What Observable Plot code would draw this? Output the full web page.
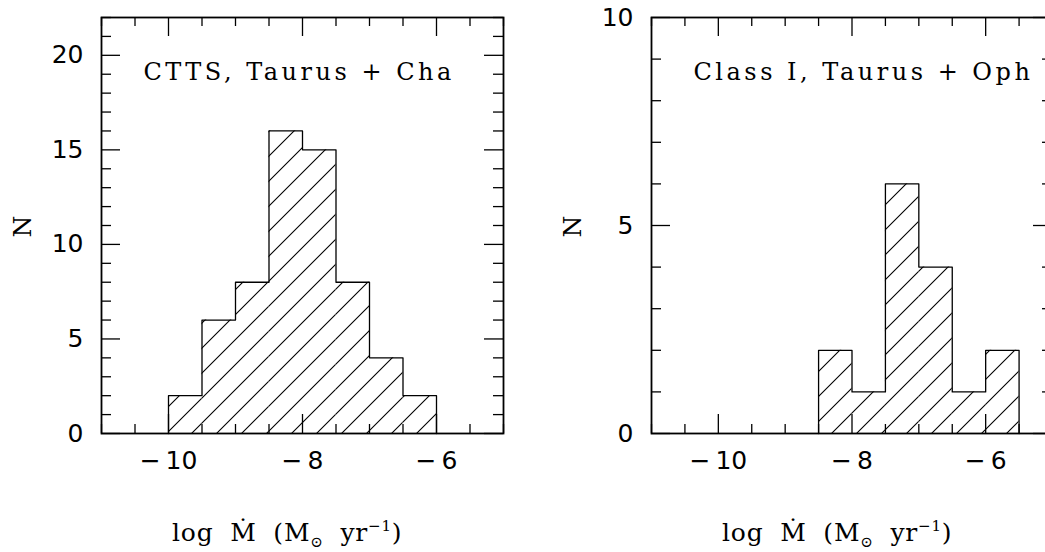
<!DOCTYPE html>
<html>
<head>
<meta charset="utf-8">
<script src="https://cdn.jsdelivr.net/npm/d3@7"></script>
<script src="https://cdn.jsdelivr.net/npm/@observablehq/plot@0.6"></script>
<style>
html, body { margin: 0; padding: 0; background: #fff; overflow: hidden; width: 1045px; height: 552px; }
#wrap { position: relative; width: 1045px; height: 552px; overflow: hidden; background: #fff; }
.panel { position: absolute; top: 0; }
.panel svg { overflow: visible; max-width: none !important; display: block; }
</style>
</head>
<body>
<div id="wrap"></div>
<script>
// Left panel: CTTS, Taurus + Cha
const cttsEdges = [-10, -9.5, -9, -8.5, -8, -7.5, -7, -6.5, -6];
const cttsCounts = [2, 6, 8, 16, 15, 8, 4, 2];
// Right panel: Class I, Taurus + Oph
const classIEdges = [-8.5, -8, -7.5, -7, -6.5, -6, -5.5];
const classICounts = [2, 1, 6, 4, 1, 2];

const xDomain = [-11, -5];
const xTickLabels = [-10, -8, -6];
const cttsYTickLabels = [0, 5, 10, 15, 20];
const classIYTickLabels = [0, 5, 10];
const cttsTitle = "CTTS, Taurus + Cha";
const classITitle = "Class I, Taurus + Oph";
const yLabel = "N";

const serif = "'DejaVu Serif', 'Liberation Serif', serif";
const sans = "'DejaVu Sans', 'Liberation Sans', sans-serif";
const fmt = d => (d < 0 ? "\u2212\u2009" : "") + Math.abs(d);

function panel({edges, counts, title, yMax, yTicks, id, left, width, marginLeft, marginRight}) {
  const H = 552, mt = 17, mb = 119;
  const ih = H - mt - mb;
  const iw = width - marginLeft - marginRight;
  const bins = counts.map((c, i) => ({x1: edges[i], x2: edges[i + 1], n: c}));
  const outline = [{x: edges[0], n: 0}, ...bins.map(b => ({x: b.x1, n: b.n})), {x: edges[edges.length - 1], n: 0}];
  const xAll = d3.range(xDomain[0], xDomain[1] + 0.001, 0.5);
  const xMajor = xAll.filter(v => Number.isInteger(v) && v % 2 === 0);
  const xMinor = xAll.filter(v => !xMajor.includes(v));
  const yAll = d3.range(0, yMax + 0.001, 1);
  const yMajor = yAll.filter(v => v % 5 === 0);
  const yMinor = yAll.filter(v => v % 5 !== 0);
  const tickW = 1.3;

  const svg = Plot.plot({
    width, height: H,
    marginLeft, marginRight, marginTop: mt, marginBottom: mb,
    style: {fontFamily: sans, fontSize: "25px", color: "#000", background: "transparent"},
    x: {domain: xDomain},
    y: {domain: [0, yMax]},
    marks: [
      Plot.rectY(bins, {x1: "x1", x2: "x2", y: "n", fill: `url(#${id})`}),
      Plot.line(outline, {x: "x", y: "n", curve: "step-after", stroke: "#000", strokeWidth: 1.3}),
      // inward ticks
      Plot.ruleX(xMinor, {x: d => d, insetTop: ih - 9, stroke: "#000", strokeWidth: tickW}),
      Plot.ruleX(xMajor, {x: d => d, insetTop: ih - 19, stroke: "#000", strokeWidth: tickW}),
      Plot.ruleX(xMinor, {x: d => d, insetBottom: ih - 9, stroke: "#000", strokeWidth: tickW}),
      Plot.ruleX(xMajor, {x: d => d, insetBottom: ih - 19, stroke: "#000", strokeWidth: tickW}),
      Plot.ruleY(yMinor, {y: d => d, insetRight: iw - 10, stroke: "#000", strokeWidth: tickW}),
      Plot.ruleY(yMajor, {y: d => d, insetRight: iw - 19, stroke: "#000", strokeWidth: tickW}),
      Plot.ruleY(yMinor, {y: d => d, insetLeft: iw - 10, stroke: "#000", strokeWidth: tickW}),
      Plot.ruleY(yMajor, {y: d => d, insetLeft: iw - 19, stroke: "#000", strokeWidth: tickW}),
      Plot.frame({stroke: "#000", strokeWidth: 1.8}),
      Plot.axisX({ticks: xTickLabels, tickFormat: fmt, tickSize: 0, tickPadding: 18, fontSize: 25, label: null}),
      Plot.axisY({ticks: yTicks, tickFormat: fmt, tickSize: 0, tickPadding: 18, fontSize: 25, label: null}),
      Plot.text([title], {frameAnchor: "top-left", dx: 42, dy: 55, lineAnchor: "middle", textAnchor: "start", fontFamily: serif, fontSize: 24}),
      Plot.text([yLabel], {frameAnchor: "left", dx: -79, dy: 12, rotate: -90, lineAnchor: "middle", fontFamily: serif, fontSize: 25})
    ]
  });

  const s = d3.select(svg);
  s.selectAll("text").filter(function() { return this.textContent === title; })
    .style("letter-spacing", "3.5px");
  const defs = s.insert("defs", ":first-child");
  const pat = defs.append("pattern").attr("id", id)
    .attr("patternUnits", "userSpaceOnUse").attr("width", 25).attr("height", 25);
  pat.append("path").attr("d", "M-1,26 L26,-1 M-1,1 L1,-1 M24,26 L26,24")
    .attr("stroke", "#000").attr("stroke-width", 1.1).attr("fill", "none");

  // x-axis label with sub/superscripts
  const t = s.append("text")
    .attr("x", marginLeft + 71).attr("y", 541)
    .attr("text-anchor", "start")
    .attr("font-family", serif).attr("font-size", 25)
    .attr("fill", "#000")
    .style("word-spacing", "8px").style("letter-spacing", "0.8px");
  t.append("tspan").text("log Ṁ (M");
  t.append("tspan").attr("dy", 6).attr("font-size", 15).text("⊙");
  t.append("tspan").attr("dy", -6).text(" yr");
  t.append("tspan").attr("dy", -10).attr("font-size", 15).text("−1");
  t.append("tspan").attr("dy", 10).text(")");

  const div = document.createElement("div");
  div.className = "panel";
  div.style.left = left + "px";
  div.style.width = width + "px";
  div.appendChild(svg);
  document.getElementById("wrap").appendChild(div);
}

panel({edges: cttsEdges, counts: cttsCounts, title: cttsTitle, yMax: 22, yTicks: cttsYTickLabels,
  id: "hatchL", left: 0, width: 540, marginLeft: 101, marginRight: 37});
panel({edges: classIEdges, counts: classICounts, title: classITitle, yMax: 10, yTicks: classIYTickLabels,
  id: "hatchR", left: 540, width: 560, marginLeft: 111, marginRight: 48});
</script>
</body>
</html>
